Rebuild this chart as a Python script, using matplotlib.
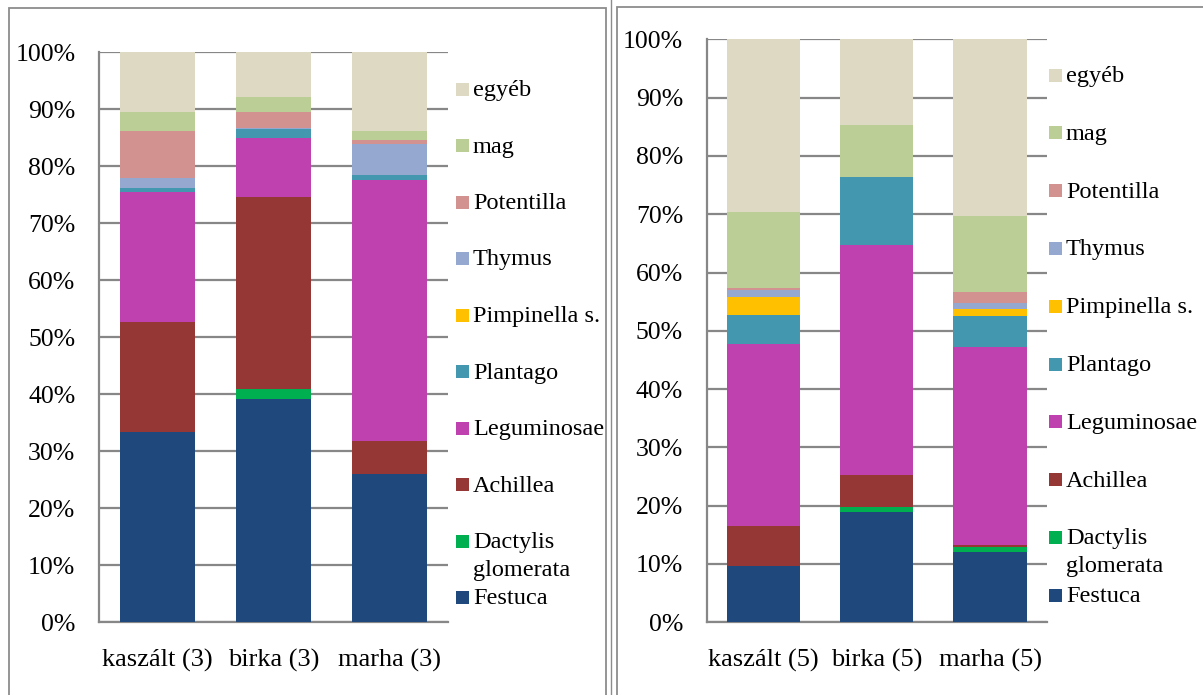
import matplotlib
matplotlib.use("Agg")
import matplotlib.pyplot as plt
from matplotlib.patches import Rectangle
from matplotlib.lines import Line2D
import numpy as np

plt.rcParams["font.family"] = ["Liberation Serif", "DejaVu Serif"]

series = ["Festuca", "Dactylis\nglomerata", "Achillea", "Leguminosae", "Plantago",
          "Pimpinella s.", "Thymus", "Potentilla", "mag", "egyéb"]
colors = ["#1F497D", "#00B050", "#953735", "#BE41AF", "#4398B0",
          "#FFC000", "#95A9D0", "#D19290", "#BBCE96", "#DDD9C3"]

cats_3 = ["kaszált (3)", "birka (3)", "marha (3)"]
cats_5 = ["kaszált (5)", "birka (5)", "marha (5)"]

# cumulative tops (%), bottom to top
tops_3 = {
    "kaszált (3)": [33.4, 33.4, 52.6, 75.5, 76.2, 76.2, 77.9, 86.2, 89.5, 100],
    "birka (3)":   [39.2, 40.9, 74.6, 84.9, 86.6, 86.6, 86.8, 89.6, 92.2, 100],
    "marha (3)":   [26.1, 26.1, 31.8, 77.6, 78.5, 78.5, 84.0, 84.6, 86.2, 100],
}
tops_5 = {
    "kaszált (5)": [9.7, 9.7, 16.6, 47.8, 52.7, 55.8, 57.0, 57.4, 70.4, 100],
    "birka (5)":   [19.0, 19.7, 25.3, 64.8, 76.4, 76.4, 76.4, 76.4, 85.3, 100],
    "marha (5)":   [12.1, 12.9, 13.3, 47.3, 52.6, 53.7, 54.8, 56.7, 69.7, 100],
}

W, H = 1203, 695
fig = plt.figure(figsize=(W / 100, H / 100), dpi=100)
grid_c = "#878787"


def px_axes(x0, x1, ytop, ybot):
    return fig.add_axes([x0 / W, 1 - ybot / H, (x1 - x0) / W, (ybot - ytop) / H])


def draw_panel(ax, cats, tops):
    x = np.arange(len(cats))
    for i in range(len(series)):
        t = np.array([tops[c][i] for c in cats])
        b = np.array([tops[c][i - 1] if i > 0 else 0 for c in cats])
        ax.bar(x, t - b, bottom=b, width=0.645, color=colors[i], linewidth=0, zorder=3)
    ax.set_xlim(-0.5, len(cats) - 0.5)
    ax.set_ylim(0, 100)
    ax.set_yticks(np.arange(0, 101, 10))
    ax.set_yticklabels([f"{v}%" for v in range(0, 101, 10)], fontsize=18.5)
    ax.set_xticks(x)
    ax.set_xticklabels(cats, fontsize=19)
    ax.tick_params(length=0)
    ax.tick_params(axis="y", pad=17)
    ax.tick_params(axis="x", pad=19)
    ax.grid(axis="y", color=grid_c, linewidth=1.6, zorder=0)
    for s in ["top", "right"]:
        ax.spines[s].set_visible(False)
    for s in ["left", "bottom"]:
        ax.spines[s].set_color(grid_c)
        ax.spines[s].set_linewidth(1.6)


def draw_legend(x_mark, y_first, step):
    n = len(series)
    for k in range(n):
        i = n - 1 - k
        yc = y_first + k * step
        fig.add_artist(Rectangle((x_mark / W, 1 - (yc + 6.5) / H), 13 / W, 13 / H,
                                 transform=fig.transFigure, color=colors[i], lw=0))
        for j, line in enumerate(series[i].split("\n")):
            fig.text((x_mark + 17) / W, 1 - (yc + 7 + 28 * j) / H, line,
                     fontsize=17.5, va="baseline")


ax1 = px_axes(99, 448, 52.3, 622.3)
draw_panel(ax1, cats_3, tops_3)
draw_legend(456, 89, 56.5)

ax2 = px_axes(706.7, 1046.7, 39.3, 622.3)
draw_panel(ax2, cats_5, tops_5)
draw_legend(1049, 75, 57.8)

# panel frames
frame_c = "#8C8C8C"
fig.add_artist(Rectangle((9 / W, -0.05), (606 - 9) / W, 1.05 - 8 / H,
                         transform=fig.transFigure, fill=False, ec=frame_c, lw=1.3))
fig.add_artist(Rectangle((617 / W, -0.05), 0.6, 1.05 - 7 / H,
                         transform=fig.transFigure, fill=False, ec=frame_c, lw=1.3))
fig.add_artist(Line2D([611 / W, 611 / W], [0, 1], transform=fig.transFigure,
                      color=frame_c, lw=1.0))

fig.savefig("out.png", dpi=100)
